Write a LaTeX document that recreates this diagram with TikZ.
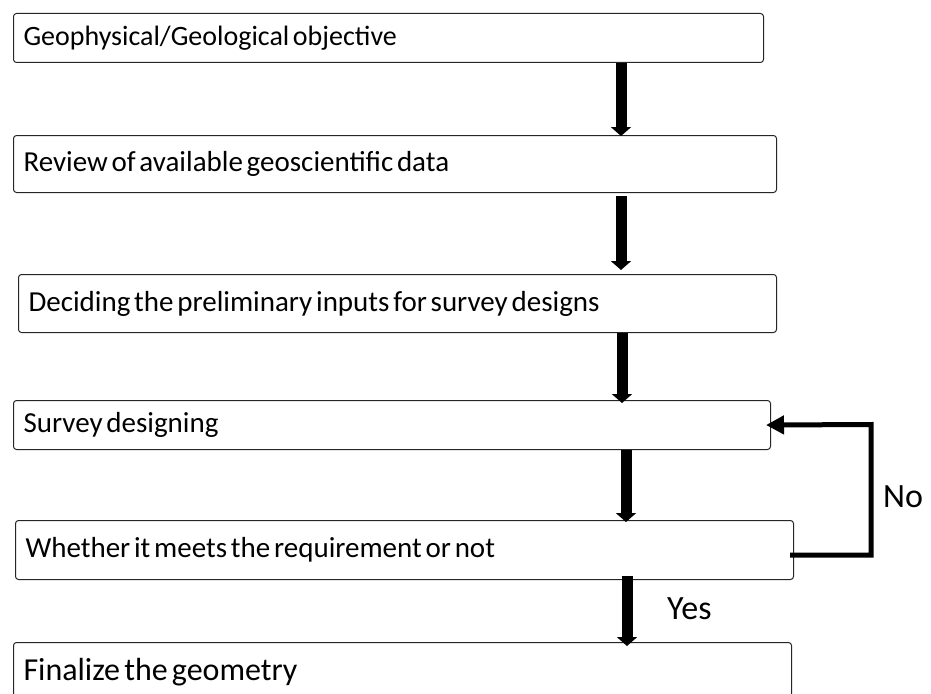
\documentclass[tikz,border=0pt]{standalone}
\usepackage{fontspec}
\setmainfont{Carlito}
\usetikzlibrary{arrows.meta}
\newcommand{\tsp}{\spaceskip=0.13em plus 0.02em\relax}
\tikzset{
  flowbox/.style={draw=black!85, rounded corners=3pt, line width=1pt, inner xsep=10pt, inner ysep=0pt,
    align=left, anchor=north west, font=\fontsize{29}{31}\selectfont},
  bigarrow/.style={line width=11pt, -{Triangle[width=20pt,length=9pt]}},
  fbarrow/.style={line width=5pt, line join=miter, -{Triangle[width=18pt,length=18pt]}},
  lbl/.style={anchor=base west, inner sep=0pt, font=\fontsize{34}{38}\selectfont},
}
\begin{document}
\begin{tikzpicture}[x=1pt, y=-1pt]
\useasboundingbox[fill=white] (0,0) rectangle (931,693);
\node[flowbox, text width=730pt, minimum height=49pt, font=\fontsize{28}{30}\selectfont] (b1) at (13,13) {\tsp Geophysical/Geological objective};
\node[flowbox, text width=743pt, minimum height=57pt] (b2) at (13,135) {\tsp Review of available geoscientific data};
\node[flowbox, text width=738pt, minimum height=58pt] (b3) at (18,274) {\tsp Deciding the preliminary inputs for survey designs};
\node[flowbox, text width=737pt, minimum height=49pt] (b4) at (13,400) {\tsp Survey designing};
\node[flowbox, text width=758pt, minimum height=59pt] (b5) at (15,520) {\tsp Whether it meets the requirement or not};
\node[flowbox, text width=758pt, minimum height=60pt, font=\fontsize{32}{35}\selectfont] (b6) at (13,642) {\tsp Finalize the geometry};
\coordinate (x1) at (621,0);
\coordinate (x2) at (621,0);
\coordinate (x3) at (622,0);
\coordinate (x4) at (626,0);
\coordinate (x5) at (627,0);
\draw[bigarrow, shorten >=-1pt] (b1.south -| x1) -- (b2.north -| x1);
\draw[bigarrow, shorten <=3pt, shorten >=4pt] (b2.south -| x2) -- (b3.north -| x2);
\draw[bigarrow, shorten >=-3pt] (b3.south -| x3) -- (b4.north -| x3);
\draw[bigarrow, shorten >=-2pt] (b4.south -| x4) -- (b5.north -| x4);
\draw[bigarrow, shorten <=-4pt, shorten >=-4pt] (b5.south -| x5) -- (b6.north -| x5);
\coordinate (fbs) at (790,555);
\coordinate (fbc) at (871,424.5);
\draw[fbarrow, shorten >=-5pt] (fbs) -| (fbc) -- (b4.east);
\node[lbl] (no) at (883,507) {No};
\node[lbl] (yes) at (667,619) {Yes};
\end{tikzpicture}
\end{document}
